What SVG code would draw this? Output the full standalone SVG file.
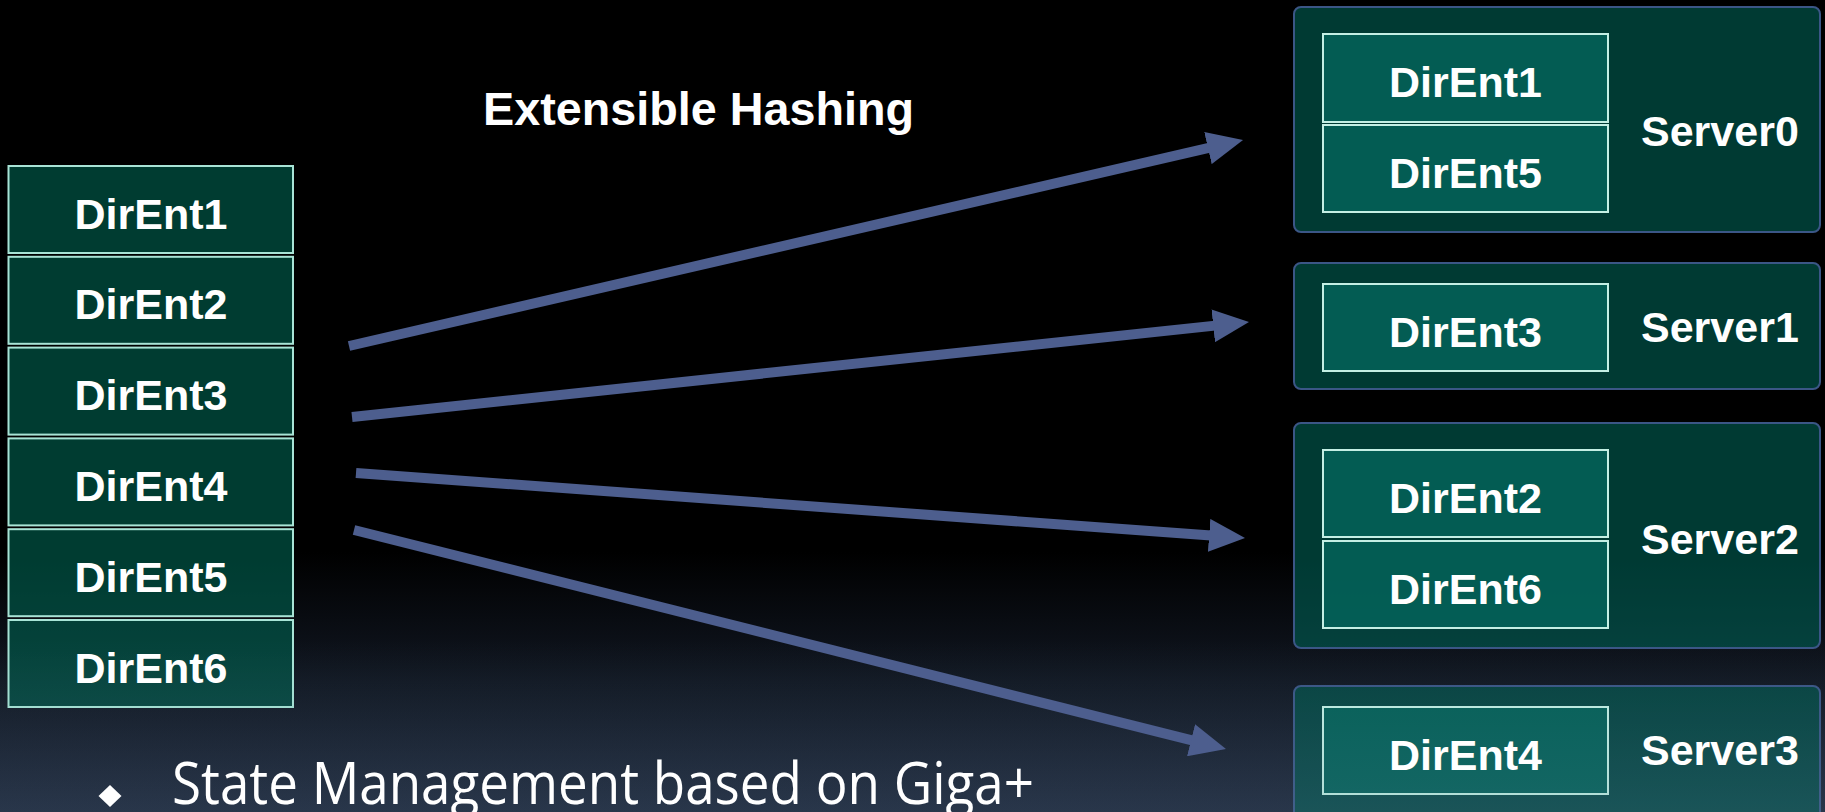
<svg xmlns="http://www.w3.org/2000/svg" width="1825" height="812" viewBox="0 0 1825 812">
  <defs>
    <linearGradient id="bg" x1="0" y1="0" x2="0" y2="812" gradientUnits="userSpaceOnUse">
      <stop offset="0" stop-color="#000000"/>
      <stop offset="0.68" stop-color="#000000"/>
      <stop offset="0.84" stop-color="#111722"/>
      <stop offset="1" stop-color="#1e2439"/>
    </linearGradient>
    <linearGradient id="haze" x1="0" y1="640" x2="0" y2="812" gradientUnits="userSpaceOnUse">
      <stop offset="0" stop-color="#5a8a9a" stop-opacity="0"/>
      <stop offset="1" stop-color="#5a8a9a" stop-opacity="0.18"/>
    </linearGradient>
    <marker id="head" markerUnits="userSpaceOnUse" markerWidth="36" markerHeight="33" refX="2" refY="16.5" orient="auto">
      <path d="M0,0 L36,16.5 L0,33 Z" fill="#4d5e8e"/>
    </marker>
    <style>
      .entry { fill: #00614f; fill-opacity: 0.62; stroke: #a8e4d6; stroke-width: 2; }
      .server { fill: #006155; fill-opacity: 0.6; stroke: #3b5686; stroke-width: 2; }
      .slot { fill: #046a5f; fill-opacity: 0.72; stroke: #c4efe4; stroke-width: 2; }
      .lbl { font-family: "Liberation Sans", Arial, sans-serif; font-weight: bold; font-size: 43px; fill: #ffffff; }
      .mid { text-anchor: middle; }
      .edge { stroke: #4d5e8e; stroke-width: 10; fill: none; marker-end: url(#head); }
    </style>
  </defs>

  <rect x="0" y="0" width="1825" height="812" fill="url(#bg)"/>

  <!-- directory entries before partitioning -->
  <g id="dirent1"><rect class="entry" x="8.5" y="166" width="284.5" height="87"/></g>
  <g id="dirent2"><rect class="entry" x="8.5" y="256.8" width="284.5" height="87"/></g>
  <g id="dirent3"><rect class="entry" x="8.5" y="347.6" width="284.5" height="87"/></g>
  <g id="dirent4"><rect class="entry" x="8.5" y="438.4" width="284.5" height="87"/></g>
  <g id="dirent5"><rect class="entry" x="8.5" y="529.2" width="284.5" height="87"/></g>
  <g id="dirent6"><rect class="entry" x="8.5" y="620" width="284.5" height="87"/></g>

  <!-- servers holding the partitions -->
  <g id="server0">
    <rect class="server" x="1294" y="7" width="526" height="225" rx="7"/>
    <rect class="slot" x="1323" y="34" width="285" height="88"/>
    <rect class="slot" x="1323" y="125" width="285" height="87"/>
  </g>
  <g id="server1">
    <rect class="server" x="1294" y="263" width="526" height="126" rx="7"/>
    <rect class="slot" x="1323" y="284" width="285" height="87"/>
  </g>
  <g id="server2">
    <rect class="server" x="1294" y="423" width="526" height="225" rx="7"/>
    <rect class="slot" x="1323" y="450" width="285" height="87"/>
    <rect class="slot" x="1323" y="541" width="285" height="87"/>
  </g>
  <g id="server3">
    <rect class="server" x="1294" y="686" width="526" height="140" rx="7"/>
    <rect class="slot" x="1323" y="707" width="285" height="87"/>
  </g>

  <!-- lighter wash toward the bottom edge -->
  <rect x="0" y="640" width="1825" height="172" fill="url(#haze)"/>

  <!-- hash mapping arrows -->
  <g id="connectors">
    <line class="edge" x1="349" y1="346" x2="1209.9" y2="147.6"/>
    <line class="edge" x1="352" y1="417" x2="1215.2" y2="325.6"/>
    <line class="edge" x1="356" y1="473" x2="1211.1" y2="535.5"/>
    <line class="edge" x1="354" y1="530" x2="1193" y2="740.7"/>
  </g>

  <!-- labels -->
  <g id="labels">
    <text class="lbl mid" x="151" y="228.5">DirEnt1</text>
    <text class="lbl mid" x="151" y="319.3">DirEnt2</text>
    <text class="lbl mid" x="151" y="410.1">DirEnt3</text>
    <text class="lbl mid" x="151" y="500.9">DirEnt4</text>
    <text class="lbl mid" x="151" y="591.7">DirEnt5</text>
    <text class="lbl mid" x="151" y="682.5">DirEnt6</text>

    <text class="lbl" x="483" y="125" style="font-size:47px" textLength="431" lengthAdjust="spacingAndGlyphs">Extensible Hashing</text>

    <text class="lbl mid" x="1465.5" y="97">DirEnt1</text>
    <text class="lbl mid" x="1465.5" y="188">DirEnt5</text>
    <text class="lbl" x="1641" y="146">Server0</text>

    <text class="lbl mid" x="1465.5" y="347">DirEnt3</text>
    <text class="lbl" x="1641" y="342">Server1</text>

    <text class="lbl mid" x="1465.5" y="513">DirEnt2</text>
    <text class="lbl mid" x="1465.5" y="604">DirEnt6</text>
    <text class="lbl" x="1641" y="554">Server2</text>

    <text class="lbl mid" x="1465.5" y="770">DirEnt4</text>
    <text class="lbl" x="1641" y="765">Server3</text>
  </g>

  <!-- bullet line -->
  <g id="bullet">
    <path d="M110,785 L121.5,796 L110,807 L98.5,796 Z" fill="#ffffff"/>
    <text x="172" y="804" font-family="'Open Sans', 'Noto Sans', sans-serif" font-size="59" fill="#ffffff" textLength="862" lengthAdjust="spacingAndGlyphs">State Management based on Giga+</text>
  </g>
</svg>
